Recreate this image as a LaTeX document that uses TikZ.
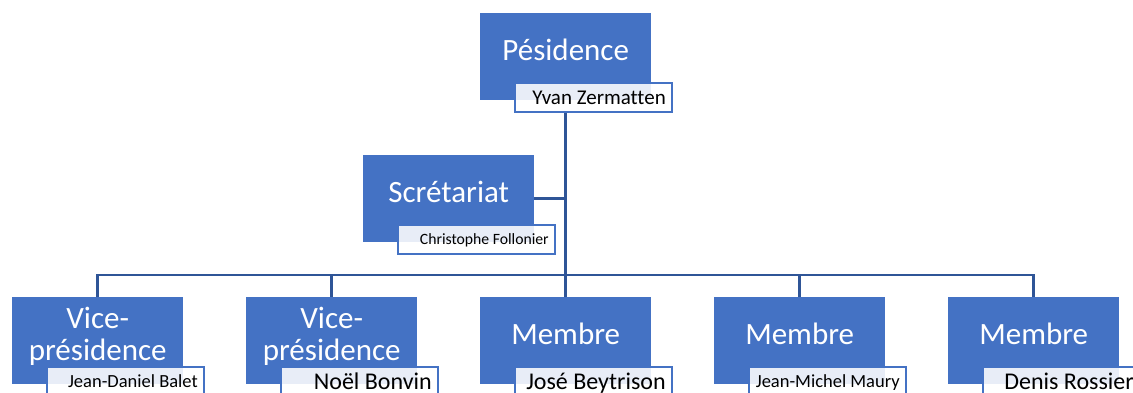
\documentclass[tikz,border=0pt]{standalone}
\usepackage{fontspec}
\setmainfont{Carlito}[Ligatures=NoCommon]
\definecolor{boxblue}{HTML}{4472C4}
\definecolor{lineblue}{HTML}{2F5597}
\newcommand{\tagtext}[1]{\makebox[145pt][r]{#1}}
\begin{document}
\begin{tikzpicture}[x=1pt,y=-1pt,
  unit/.style={fill=boxblue, minimum width=171pt, minimum height=87pt, inner sep=0pt,
    text=white, font=\fontsize{31}{32}\selectfont, align=center, text depth=13.5pt, anchor=north west},
  tag/.style 2 args={draw=boxblue, line width=1.5pt, fill=white, fill opacity=0.88, text opacity=1,
    text=black, minimum height=29pt, minimum width=157pt, inner ysep=0pt, inner xsep=6pt,
    anchor=north west, font=\fontsize{#1}{#1}\selectfont, text height=#2, text depth=0pt},
  link/.style={draw=lineblue, line width=2.5pt}]
\useasboundingbox (0,0) rectangle (1133,393);
\clip (0,0) rectangle (1133,393);
% boxes
\node[unit] (top) at (480,13) {Pésidence};
\node[unit] (sec) at (363,155) {Scrétariat};
\node[unit] (b1) at (12,297) {Vice-\\présidence};
\node[unit] (b2) at (246,297) {Vice-\\présidence};
\node[unit] (b3) at (480,297) {Membre};
\node[unit] (b4) at (714,297) {Membre};
\node[unit] (b5) at (948,297) {Membre};
% name tags
\node[tag={21}{13.5pt}] (ltop) at ([xshift=34pt,yshift=18pt]top.south west) {\tagtext{Yvan Zermatten}};
\node[tag={15.7}{10.1pt}] (lsec) at ([xshift=34pt,yshift=18pt]sec.south west) {\tagtext{Christophe Follonier}};
\node[tag={18.5}{11.9pt}] (l1) at ([xshift=34pt,yshift=18pt]b1.south west) {\tagtext{Jean-Daniel Balet}};
\node[tag={24}{15.5pt}] (l2) at ([xshift=34pt,yshift=18pt]b2.south west) {\tagtext{Noël Bonvin}};
\node[tag={24}{15.5pt}] (l3) at ([xshift=34pt,yshift=18pt]b3.south west) {\tagtext{José Beytrison}};
\node[tag={18.5}{11.9pt}] (l4) at ([xshift=34pt,yshift=18pt]b4.south west) {\tagtext{Jean-Michel Maury}};
\node[tag={24}{15.5pt}] (l5) at ([xshift=34pt,yshift=18pt]b5.south west) {\tagtext{Denis Rossier}};
% connectors
\coordinate (busy) at (0,275);
\draw[link] (top.south |- ltop.south) -- (top.south |- busy);
\draw[link] (sec.east) -- (sec.east -| top.south);
\draw[link] (b1.north) |- (b5.north |- busy) -- (b5.north);
\draw[link] (b2.north) -- (b2.north |- busy);
\draw[link] (b3.north) -- (b3.north |- busy);
\draw[link] (b4.north) -- (b4.north |- busy);
\end{tikzpicture}
\end{document}
